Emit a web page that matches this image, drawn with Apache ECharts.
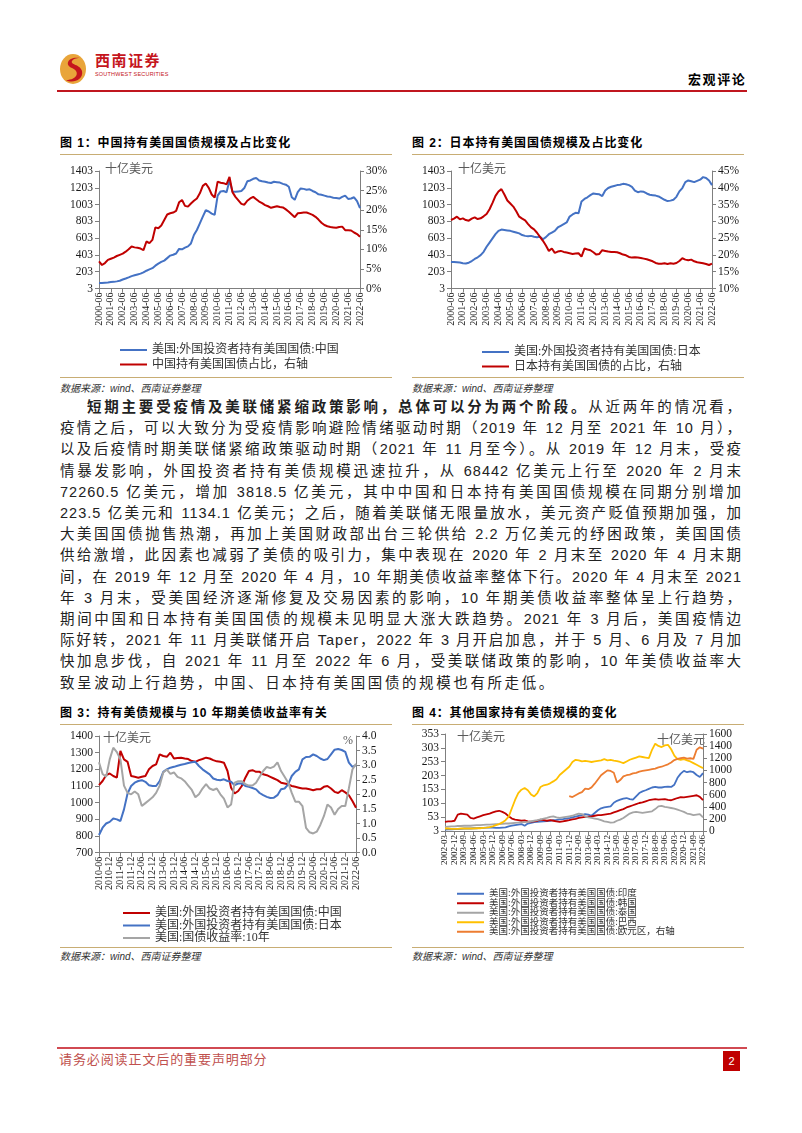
<!DOCTYPE html>
<html lang="zh-CN">
<head>
<meta charset="utf-8">
<title>宏观评论</title>
<script src="https://cdn.jsdelivr.net/npm/echarts@6.0.0/dist/echarts.min.js"></script>
<style>
  html, body { margin: 0; padding: 0; background: #fff; }
  #page { position: relative; width: 802px; height: 1133px; overflow: hidden; font-family: "Liberation Sans", "Noto Sans CJK SC", sans-serif; color: #000; }
  .abs { position: absolute; white-space: nowrap; }
  .fig-title { position: absolute; font-size: 12px; font-weight: bold; letter-spacing: 0.9px; white-space: nowrap; line-height: 14px; }
  .rule { position: absolute; height: 1px; background: #c8ad74; }
  .src { position: absolute; font-size: 10px; font-style: italic; color: #333; white-space: nowrap; line-height: 12px; }
  .chart { position: absolute; width: 340px; height: 232px; }
  .para { position: absolute; left: 60px; top: 397px; width: 682px; font-size: 14.5px; line-height: 21.2px; letter-spacing: 1px; color: #222; }
  .para div { text-align: justify; text-align-last: justify; }
  .para div.last { text-align: left; text-align-last: left; letter-spacing: 2.6px; }
</style>
</head>
<body>
<div id="page">
  <!-- header -->
  <svg class="abs" style="left:58px;top:53px" width="30" height="32" viewBox="0 0 30 32">
    <ellipse cx="15" cy="16" rx="13" ry="15" fill="#e9a53a"/>
    <path d="M22 5 C10 3 6 12 14 15 C22 18 20 27 8 27 C14 31 26 27 24 18 C22 11 12 12 14 8 C16 5 20 5 22 5 Z" fill="#c5161d"/>
  </svg>
  <div class="abs" style="left:95px;top:52px;font-size:15px;font-weight:bold;color:#c5161d;letter-spacing:1.5px;line-height:18px;">西南证券</div>
  <div class="abs" style="left:95px;top:71px;font-size:5.5px;color:#c5161d;letter-spacing:0.2px;line-height:6px;">SOUTHWEST SECURITIES</div>
  <div class="abs" style="left:688px;top:72px;font-size:13px;font-weight:bold;letter-spacing:1.6px;line-height:16px;">宏观评论</div>
  <div class="abs" style="left:57px;top:90px;width:690px;height:2px;background:#c0161f;"></div>

  <!-- figure 1 / 2 -->
  <div class="fig-title" style="left:60px;top:136px;">图 1：中国持有美国国债规模及占比变化</div>
  <div class="rule" style="left:60px;top:154px;width:332px;"></div>
  <div class="rule" style="left:60px;top:377px;width:332px;"></div>
  <div class="src" style="left:60px;top:383px;">数据来源：wind、西南证券整理</div>
  <div id="c1" class="chart" style="left:60px;top:158px;"></div>

  <div class="fig-title" style="left:412px;top:136px;">图 2：日本持有美国国债规模及占比变化</div>
  <div class="rule" style="left:412px;top:154px;width:332px;"></div>
  <div class="rule" style="left:412px;top:377px;width:332px;"></div>
  <div class="src" style="left:412px;top:383px;">数据来源：wind、西南证券整理</div>
  <div id="c2" class="chart" style="left:412px;top:158px;"></div>

  <!-- body text -->
  <div class="para">
    <div style="padding-left:27px;"><b>短期主要受疫情及美联储紧缩政策影响，总体可以分为两个阶段。</b>从近两年的情况看，</div>
    <div>疫情之后，可以大致分为受疫情影响避险情绪驱动时期（2019 年 12 月至 2021 年 10 月），</div>
    <div>以及后疫情时期美联储紧缩政策驱动时期（2021 年 11 月至今）。从 2019 年 12 月末，受疫</div>
    <div>情暴发影响，外国投资者持有美债规模迅速拉升，从 68442 亿美元上行至 2020 年 2 月末</div>
    <div>72260.5 亿美元，增加 3818.5 亿美元，其中中国和日本持有美国国债规模在同期分别增加</div>
    <div>223.5 亿美元和 1134.1 亿美元；之后，随着美联储无限量放水，美元资产贬值预期加强，加</div>
    <div>大美国国债抛售热潮，再加上美国财政部出台三轮供给 2.2 万亿美元的纾困政策，美国国债</div>
    <div>供给激增，此因素也减弱了美债的吸引力，集中表现在 2020 年 2 月末至 2020 年 4 月末期</div>
    <div>间，在 2019 年 12 月至 2020 年 4 月，10 年期美债收益率整体下行。2020 年 4 月末至 2021</div>
    <div>年 3 月末，受美国经济逐渐修复及交易因素的影响，10 年期美债收益率整体呈上行趋势，</div>
    <div>期间中国和日本持有美国国债的规模未见明显大涨大跌趋势。2021 年 3 月后，美国疫情边</div>
    <div>际好转，2021 年 11 月美联储开启 Taper，2022 年 3 月开启加息，并于 5 月、6 月及 7 月加</div>
    <div>快加息步伐，自 2021 年 11 月至 2022 年 6 月，受美联储政策的影响，10 年美债收益率大</div>
    <div class="last">致呈波动上行趋势，中国、日本持有美国国债的规模也有所走低。</div>
  </div>

  <!-- figure 3 / 4 -->
  <div class="fig-title" style="left:60px;top:706px;">图 3：持有美债规模与 10 年期美债收益率有关</div>
  <div class="rule" style="left:60px;top:724px;width:332px;"></div>
  <div class="rule" style="left:60px;top:947px;width:332px;"></div>
  <div class="src" style="left:60px;top:951px;">数据来源：wind、西南证券整理</div>
  <div id="c3" class="chart" style="left:60px;top:728px;"></div>

  <div class="fig-title" style="left:412px;top:706px;">图 4：其他国家持有美债规模的变化</div>
  <div class="rule" style="left:412px;top:724px;width:332px;"></div>
  <div class="rule" style="left:412px;top:947px;width:332px;"></div>
  <div class="src" style="left:412px;top:951px;">数据来源：wind、西南证券整理</div>
  <div id="c4" class="chart" style="left:412px;top:728px;"></div>

  <!-- footer -->
  <div class="abs" style="left:57px;top:1047px;width:690px;height:1.5px;background:#d14a52;"></div>
  <div class="abs" style="left:59px;top:1052px;font-size:13px;color:#c0504d;letter-spacing:0.9px;line-height:16px;">请务必阅读正文后的重要声明部分</div>
  <div class="abs" style="left:723px;top:1051px;width:17px;height:20px;background:#c00000;color:#fff;font-size:11px;line-height:20px;text-align:center;">2</div>
</div>

<script>
// ---------- data ----------
// 图1、图2：季度，2000-06 ~ 2022-06（十亿美元 / %）
const chinaHold = [70, 68, 72, 75, 80, 82, 88, 95, 110, 122,
  135, 150, 160, 170, 180, 195, 215, 230, 245, 275,
  300, 320, 335, 365, 395, 405, 420, 475, 470, 490,
  505, 540, 640, 700, 780, 860, 935, 920, 895, 880,
  1110, 1160, 1165, 1150, 1290, 1160, 1155, 1160, 1165, 1200,
  1280, 1290, 1310, 1320, 1290, 1280, 1275, 1265, 1260, 1275,
  1270, 1265, 1250, 1240, 1215, 1090, 1060, 1150, 1195, 1190,
  1180, 1185, 1165, 1150, 1125, 1120, 1110, 1100, 1095, 1085,
  1080, 1075, 1095, 1110, 1070, 1075, 1090, 1045, 960]
const chinaShare = [6.9, 6.0, 6.5, 7.3, 7.6, 7.9, 8.3, 8.6, 8.9, 9.4,
  10.0, 10.7, 10.5, 10.4, 10.2, 9.8, 12.0, 11.6, 12.4, 15.6,
  15.4, 16.1, 17.5, 18.9, 19.2, 19.4, 19.8, 22.0, 22.6, 21.1,
  20.9, 21.7, 22.4, 23.0, 24.3, 26.2, 26.8, 25.7, 24.0, 23.2,
  27.3, 27.0, 26.9, 26.6, 28.5, 24.6, 23.4, 22.5, 21.6, 21.4,
  22.4, 23.0, 23.4, 22.8, 22.2, 21.8, 21.3, 21.0, 20.6, 20.8,
  21.0, 20.8, 20.7, 20.2, 19.6, 18.9, 18.2, 19.2, 19.3, 19.4,
  19.4, 19.1, 18.8, 18.3, 17.6, 16.8, 16.2, 15.9, 15.7, 15.6,
  15.5, 15.7, 15.8, 14.9, 14.9, 14.8, 14.3, 13.9, 13.2]
const japanHold = [320, 318, 315, 312, 305, 300, 310, 330, 355, 375,
  400, 440, 500, 550, 600, 650, 690, 705, 700, 695,
  690, 680, 670, 660, 640, 630, 625, 630, 620, 615,
  620, 590, 615, 650, 670, 690, 730, 750, 770, 790,
  860, 885, 905, 900, 1040, 1070, 1090, 1115, 1135, 1130,
  1125, 1105, 1170, 1200, 1215, 1225, 1235, 1240, 1250, 1245,
  1235, 1215, 1170, 1150, 1160, 1155, 1135, 1120, 1115, 1110,
  1100, 1080, 1060, 1045, 1050, 1060, 1095, 1160, 1200, 1270,
  1290, 1280, 1270, 1285, 1300, 1330, 1320, 1290, 1235]
const japanShare = [30.4, 30.8, 31.4, 30.6, 30.9, 30.4, 30.2, 30.8, 31.2, 30.7,
  30.9, 31.5, 32.2, 33.6, 35.5, 37.6, 38.9, 39.6, 38.0, 36.2,
  35.3, 34.4, 33.0, 31.4, 30.8, 30.3, 29.2, 28.2, 27.6, 26.6,
  25.4, 24.2, 22.8, 21.2, 21.9, 20.6, 21.0, 21.2, 20.9, 20.7,
  20.5, 20.3, 20.4, 20.5, 19.5, 21.9, 21.6, 21.4, 20.8, 20.1,
  20.3, 21.4, 21.2, 21.0, 20.9, 20.9, 20.8, 20.5, 20.1, 19.9,
  19.4, 19.2, 19.3, 19.2, 19.1, 18.9, 18.7, 18.4, 18.1, 17.6,
  17.4, 17.4, 17.5, 17.3, 17.5, 17.4, 17.6, 18.2, 19.0, 18.6,
  18.4, 18.6, 18.1, 17.8, 17.7, 17.5, 17.3, 17.0, 17.4]

// 图3：双月，2010-06 ~ 2022-06
const cnHold3 = [1105, 1130, 1165, 1175, 1160, 1150, 1310, 1260, 1245, 1160,
  1155, 1150, 1155, 1160, 1200, 1220, 1230, 1290, 1280, 1275,
  1300, 1265, 1268, 1270, 1265, 1262, 1250, 1245, 1255, 1262,
  1270, 1265, 1255, 1248, 1245, 1240, 1190, 1090, 1055, 1070,
  1100, 1150, 1190, 1195, 1185, 1185, 1170, 1165, 1155, 1145,
  1135, 1120, 1115, 1110, 1100, 1095, 1090, 1085, 1085, 1080,
  1075, 1080, 1080, 1095, 1100, 1085, 1065, 1058, 1075, 1062,
  1045, 1010, 970]
const jpHold3 = [806, 850, 875, 885, 905, 900, 890, 960, 1055, 1100,
  1120, 1130, 1135, 1125, 1105, 1100, 1100, 1130, 1185, 1200,
  1210, 1215, 1222, 1228, 1232, 1238, 1242, 1245, 1220, 1200,
  1185, 1170, 1145, 1138, 1135, 1140, 1130, 1125, 1105, 1115,
  1115, 1100, 1095, 1088, 1080, 1058, 1045, 1035, 1028, 1030,
  1045, 1080, 1085, 1110, 1160, 1185, 1200, 1260, 1274, 1275,
  1290, 1280, 1265, 1255, 1262, 1290, 1318, 1322, 1316, 1305,
  1240, 1215, 1225]
const ust10y = [3.1, 2.7, 2.6, 3.2, 3.6, 3.45, 3.2, 2.3, 2.05, 2.0,
  2.1, 2.0, 1.6, 1.7, 1.8, 1.9, 2.05, 2.3, 2.75, 2.85,
  2.7, 2.75, 2.6, 2.55, 2.45, 2.3, 2.15, 1.9, 2.0, 2.2,
  2.35, 2.2, 2.15, 2.2, 2.0, 1.85, 1.55, 1.65, 2.4, 2.45,
  2.45, 2.35, 2.3, 2.3, 2.4, 2.6, 2.8, 2.94, 2.9, 2.95,
  3.1, 2.8, 2.6, 2.4, 2.05, 1.75, 1.75, 1.6, 0.85, 0.7,
  0.66, 0.72, 0.95, 1.25, 1.65, 1.55, 1.3, 1.5, 1.6, 1.6,
  2.2, 2.85, 3.05]

// 图4：季度，2002-03 ~ 2022-06；欧元区自 2011-12 起（右轴）
const indiaHold = [8, 9, 9, 10, 10, 11, 12, 12, 12, 13, 13, 14, 14, 15, 15, 15,
  14, 14, 15, 16, 20, 22, 24, 26, 28, 22, 30, 32, 35, 36, 37, 38,
  39, 40, 42, 43, 45, 46, 48, 49, 52, 55, 58, 60, 64, 62, 58, 68,
  78, 85, 88, 90, 92, 105, 112, 116, 120, 122, 118, 116, 128, 140, 146, 150,
  155, 160, 162, 160, 160, 162, 163, 162, 170, 195, 210, 220, 215, 218, 215, 205,
  198, 212]
const koreaHold = [36, 38, 38, 40, 62, 66, 64, 62, 50, 48, 52, 56, 60, 63, 66, 70,
  74, 76, 72, 66, 56, 48, 44, 42, 40, 41, 38, 37, 38, 40, 44, 42,
  40, 42, 40, 38, 36, 38, 40, 42, 45, 47, 50, 52, 54, 55, 56, 58,
  60, 60, 62, 64, 66, 70, 74, 78, 82, 88, 92, 96, 100, 104, 106, 110,
  114, 116, 118, 116, 117, 118, 115, 114, 118, 122, 125, 124, 126, 128, 130, 132,
  126, 114]
const thaiHold = [18, 19, 20, 20, 21, 21, 22, 22, 22, 23, 24, 24, 25, 26, 26, 27,
  28, 28, 29, 30, 30, 31, 32, 33, 34, 35, 36, 38, 40, 42, 45, 48,
  50, 54, 56, 52, 50, 52, 54, 56, 58, 62, 66, 64, 56, 52, 50, 48,
  46, 42, 38, 36, 33, 34, 40, 44, 50, 58, 66, 70, 72, 70, 68, 70,
  72, 74, 82, 92, 94, 90, 88, 86, 84, 80, 76, 72, 66, 64, 60, 62,
  64, 52]
const brazilHold = [12, 12, 11, 11, 11, 12, 12, 12, 12, 12, 13, 13, 14, 15, 17, 20,
  24, 28, 34, 42, 55, 85, 115, 140, 152, 158, 150, 135, 128, 140, 162, 168,
  170, 175, 182, 190, 205, 215, 225, 235, 252, 260, 258, 254, 256, 254, 252, 254,
  256, 258, 262, 258, 260, 257, 255, 252, 248, 254, 260, 264, 268, 272, 270, 268,
  266, 296, 318, 310, 306, 312, 314, 298, 275, 262, 260, 262, 258, 254, 248, 242,
  236, 230]
const euroStart = '2011-12'
const euroHold = [575, 560, 590, 620, 640, 700, 690, 720, 780, 850,
  920, 960, 1000, 990, 960, 800, 840, 900, 920, 930,
  950, 960, 980, 990, 1000, 1010, 1020, 1030, 1050, 1060,
  1080, 1100, 1130, 1170, 1190, 1200, 1210, 1195, 1200, 1190,
  1340, 1380, 1360]

const legend1 = ['美国:外国投资者持有美国国债:中国', '中国持有美国国债占比，右轴']
const legend2 = ['美国:外国投资者持有美国国债:日本', '日本持有美国国债的占比，右轴']
const legend3 = ['美国:外国投资者持有美国国债:中国', '美国:外国投资者持有美国国债:日本', '美国:国债收益率:10年']
const legend4 = ['美国:外国投资者持有美国国债:印度', '美国:外国投资者持有美国国债:韩国',
  '美国:外国投资者持有美国国债:泰国', '美国:外国投资者持有美国国债:巴西', '美国:外国投资者持有美国国债:欧元区，右轴']

// ---------- helpers ----------
const SERIF = '"Liberation Serif", "Noto Sans CJK SC", serif'
const AXIS_C = '#7f7f7f'
const BLUE = '#4472c4'
const RED = '#c00000'
const GRAY = '#a5a5a5'
const YELLOW = '#ffc000'
const ORANGE = '#ed7d31'

// month labels like 2000-06, stepping by n months
function monthSeq (start, end, step) {
  let [y, m] = start.split('-').map(Number)
  const [y2, m2] = end.split('-').map(Number)
  const out = []
  while (y < y2 || (y === y2 && m <= m2)) {
    out.push(y + '-' + String(m).padStart(2, '0'))
    m += step
    while (m > 12) { m -= 12; y++ }
  }
  return out
}

const catAxis = (cats, every, fontSize) => ({
  type: 'category',
  data: cats,
  boundaryGap: false,
  axisLine: { lineStyle: { color: AXIS_C, width: 1 } },
  axisTick: { show: true, interval: every - 1, length: 4, lineStyle: { color: AXIS_C } },
  axisLabel: { interval: every - 1, rotate: 90, fontSize: fontSize, fontFamily: SERIF, color: '#1a1a1a', margin: 4 },
  splitLine: { show: false }
})

const valAxis = (pos, min, max, step, fmt) => ({
  type: 'value',
  position: pos,
  min: min,
  max: max,
  interval: step,
  axisLine: { show: true, lineStyle: { color: AXIS_C } },
  axisTick: { show: true, length: 4, lineStyle: { color: AXIS_C } },
  axisLabel: { formatter: fmt || (v => String(v)), fontSize: 11.5, fontFamily: SERIF, color: '#1a1a1a', margin: 6 },
  splitLine: { show: false }
})

const line = (name, data, color, yAxisIndex, width) => ({
  name: name,
  type: 'line',
  data: data,
  yAxisIndex: yAxisIndex,
  symbol: 'none',
  lineStyle: { color: color, width: width || 2 },
  itemStyle: { color: color }
})

const legendOf = (names, left, top, fontSize, lineHeight, gap) => ({
  orient: 'vertical',
  left: left,
  top: top,
  padding: 0,
  icon: 'rect',
  itemWidth: 27,
  itemHeight: 2,
  itemGap: gap,
  data: names,
  textStyle: { fontSize: fontSize, lineHeight: lineHeight, fontFamily: SERIF, color: '#333' }
})

const label = (text, left, top) => ({
  type: 'text', left: left, top: top,
  style: { text: text, fontSize: 12, fontFamily: SERIF, fill: '#595959' }
})

const pct = v => v + '%'

function draw (id, option) {
  const chart = echarts.init(document.getElementById(id))
  chart.setOption(Object.assign({ animation: false }, option))
  return chart
}

// ---------- 图1 ----------
const q0022 = monthSeq('2000-06', '2022-06', 3)
draw('c1', {
  grid: { left: 39, top: 13, width: 261, height: 117.5, outerBoundsMode: 'none' },
  xAxis: catAxis(q0022, 4, 10),
  yAxis: [valAxis('left', 3, 1403, 200), valAxis('right', 0, 30, 5, pct)],
  legend: legendOf(legend1, 60, 186, 12, 12, 2.5),
  graphic: [label('十亿美元', 45, 6)],
  series: [
    line(legend1[0], chinaHold, BLUE, 0),
    line(legend1[1], chinaShare, RED, 1)
  ]
})

// ---------- 图2 ----------
draw('c2', {
  grid: { left: 39, top: 13, width: 261, height: 117.5, outerBoundsMode: 'none' },
  xAxis: catAxis(q0022, 4, 10),
  yAxis: [valAxis('left', 3, 1403, 200), valAxis('right', 10, 45, 5, pct)],
  legend: legendOf(legend2, 70, 188, 12, 12, 2.5),
  graphic: [label('十亿美元', 46, 6)],
  series: [
    line(legend2[0], japanHold, BLUE, 0),
    line(legend2[1], japanShare, RED, 1)
  ]
})

// ---------- 图3 ----------
const b1022 = monthSeq('2010-06', '2022-06', 2)
draw('c3', {
  grid: { left: 39, top: 8, width: 257, height: 116.7, outerBoundsMode: 'none' },
  xAxis: catAxis(b1022, 3, 10),
  yAxis: [valAxis('left', 700, 1400, 100), valAxis('right', 0, 4, 0.5, v => v.toFixed(1))],
  legend: legendOf(legend3, 63, 179, 12, 12, 0.5),
  graphic: [label('十亿美元', 43, 5), label('%', 283, 7)],
  series: [
    line(legend3[0], cnHold3, RED, 0),
    line(legend3[1], jpHold3, BLUE, 0),
    line(legend3[2], ust10y, GRAY, 1)
  ]
})

// ---------- 图4 ----------
const q0222 = monthSeq('2002-03', '2022-06', 3)
const euroData = q0222.map(d => null)
euroHold.forEach((v, i) => { euroData[q0222.indexOf(euroStart) + i] = v })
draw('c4', {
  grid: { left: 33, top: 6, width: 258, height: 97, outerBoundsMode: 'none' },
  xAxis: catAxis(q0222, 3, 9),
  yAxis: [valAxis('left', 3, 353, 50), valAxis('right', 0, 1600, 200)],
  legend: legendOf(legend4, 45, 161, 9.5, 9.3, 0),
  graphic: [label('十亿美元', 45, 4), label('十亿美元', 245, 7)],
  series: [
    line(legend4[0], indiaHold, BLUE, 0, 1.8),
    line(legend4[1], koreaHold, RED, 0, 1.8),
    line(legend4[2], thaiHold, GRAY, 0, 1.8),
    line(legend4[3], brazilHold, YELLOW, 0, 1.8),
    line(legend4[4], euroData, ORANGE, 1, 1.8)
  ]
})
</script>
</body>
</html>
